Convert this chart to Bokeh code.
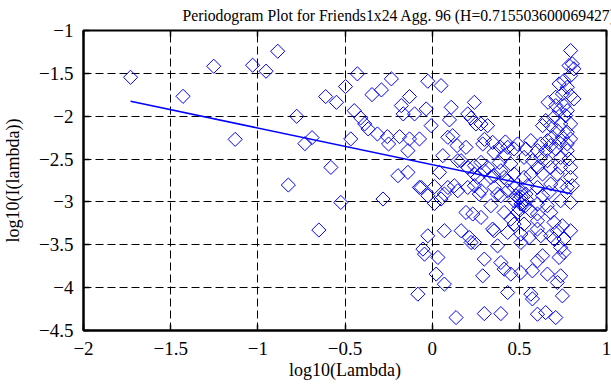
import math
from bokeh.plotting import figure
from bokeh.models import Range1d, LinearAxis, FixedTicker, Title
from bokeh.embed import file_html
from bokeh.resources import INLINE

# ---- data ----
lam = [
    -1.730, -1.429, -1.253, -1.130, -1.030, -0.953, -0.886, -0.825, -0.777, -0.730,
    -0.689, -0.650, -0.611, -0.581, -0.549, -0.524, -0.497, -0.467, -0.447, -0.429,
    -0.410, -0.387, -0.367, -0.345, -0.291, -0.314, -0.257, -0.282, -0.234, -0.250,
    -0.187, -0.196, -0.139, -0.177, -0.166, -0.130, -0.130, -0.139, -0.101, -0.073,
    -0.073, -0.034, -0.025, -0.006, 0.051, 0.061, 0.042, 0.099, 0.109, 0.090,
    0.118, 0.143, 0.242, 0.223, 0.280, 0.318, 0.194, 0.290, 0.347, 0.166,
    0.204, 0.280, 0.355, -0.063, 0.013, 0.013, 0.127, 0.194, 0.280, 0.070,
    -0.025, -0.053, -0.044, 0.033, 0.023, 0.070, -0.082, 0.137, 0.166, 0.213,
    0.242, 0.299, 0.290, 0.347, 0.375, 0.394, 0.413, 0.299, 0.394, 0.433,
    0.451, 0.509, 0.575, 0.566, 0.575, 0.604, 0.651, 0.709, 0.737, 0.718,
    0.747, 0.661, 0.604, 0.633, 0.728, 0.756, 0.737, 0.270, 0.355, 0.433,
    0.470, 0.527, 0.509, 0.509, 0.556, 0.604, 0.623, 0.680, 0.718, 0.794,
    0.699, 0.756, 0.413, 0.604, 0.680, 0.470, 0.509, 0.537, 0.633, 0.737,
    0.794, 0.804, 0.737, 0.375, 0.433, 0.337, 0.242, 0.233, 0.223,
    0.794, 0.804, 0.785, 0.813, 0.794, 0.756, 0.728, 0.775, 0.794, 0.813,
    0.747, 0.709, 0.665, 0.709, 0.756, 0.728, 0.775, 0.766, 0.699, 0.651,
    0.633, 0.680, 0.737, 0.794, 0.718, 0.775, 0.690, 0.747, 0.794, 0.661,
    0.728, 0.623, 0.680, 0.775, 0.604, 0.651, 0.709, 0.775, 0.537, 0.470,
    0.251, 0.413, 0.385, 0.451, 0.527, 0.575, 0.623, 0.661, 0.737, 0.785,
    0.604, 0.680, 0.737, 0.794, 0.566, 0.633, 0.718, 0.794, 0.299, 0.242,
    0.261, 0.337, 0.413, 0.470, 0.527, 0.547, 0.604, 0.680, 0.670, 0.775,
    0.661, 0.604, 0.566, 0.490, 0.451, 0.604, 0.699, 0.747, 0.480, 0.509,
    0.497, 0.147, 0.242, 0.318, 0.356, 0.394, 0.433, 0.470, 0.356, 0.394,
    0.280, 0.204, 0.147, 0.090, 0.051, -0.025, 0.566, 0.490, 0.433, 0.204,
    0.070, 0.520, 0.500, 0.530, 0.510, 0.540, 0.300, 0.390, 0.420,
]
per = [
    -1.546, -1.768, -1.417, -2.270, -1.405, -1.475, -1.242, -2.803, -2.001, -2.320,
    -2.250, -3.328, -1.771, -2.597, -1.838, -3.006, -1.654, -2.265, -1.935, -1.506,
    -2.020, -2.090, -2.148, -1.748, -1.693, -2.207, -2.238, -2.966, -1.564, -2.324,
    -2.238, -2.694, -2.655, -1.876, -1.973, -1.771, -2.265, -2.402, -1.973, -2.265,
    -2.831, -1.915, -1.592, -2.110, -1.643, -2.460, -2.655, -2.043, -1.896, -2.246,
    -2.227, -2.343, -1.838, -2.020, -2.090, -2.110, -2.363, -2.324, -2.305, -2.519,
    -2.597, -2.539, -2.422, -2.831, -2.822, -3.018, -2.811, -3.123, -3.181, -3.336,
    -3.395, -3.550, -3.609, -3.648, -3.842, -3.959, -4.076, -4.349, -3.336, -3.415,
    -3.473, -3.667, -3.862, -3.317, -3.512, -3.707, -3.784, -4.303, -4.303, -4.057,
    -3.842, -3.824, -3.804, -4.076, -4.131, -4.310, -4.291, -4.349, -3.862, -3.940,
    -4.096, -3.842, -3.687, -3.628, -3.648, -3.590, -3.531, -2.908, -3.336, -3.356,
    -3.258, -3.258, -3.375, -3.473, -3.415, -3.317, -3.395, -3.395, -3.336, -3.336,
    -3.433, -3.433, -3.123, -3.141, -3.123, -2.986, -3.025, -2.908, -2.928, -2.986,
    -3.006, -2.811, -2.811, -2.908, -2.869, -3.044, -2.811, -3.141, -3.473,
    -1.234, -1.389, -1.409, -1.447, -1.526, -1.584, -1.623, -1.662, -1.759, -1.798,
    -1.739, -1.779, -1.838, -1.876, -1.876, -1.935, -1.935, -1.993, -2.013, -2.051,
    -2.110, -2.110, -2.090, -2.090, -2.168, -2.188, -2.246, -2.246, -2.265, -2.285,
    -2.305, -2.324, -2.343, -2.324, -2.402, -2.402, -2.382, -2.402, -2.382, -2.382,
    -2.090, -2.460, -2.539, -2.557, -2.480, -2.519, -2.480, -2.519, -2.480, -2.499,
    -2.597, -2.597, -2.597, -2.597, -2.674, -2.674, -2.674, -2.714, -2.636, -2.577,
    -2.714, -2.714, -2.714, -2.674, -2.714, -2.811, -2.831, -2.791, -2.889, -2.831,
    -3.044, -3.025, -3.103, -3.123, -3.200, -3.220, -3.239, -3.278, -2.928, -2.869,
    -3.079, -2.519, -2.674, -2.597, -2.694, -2.636, -2.752, -2.831, -2.831, -2.928,
    -2.869, -2.831, -2.869, -2.831, -2.966, -2.928, -2.285, -2.324, -2.363, -1.973,
    -2.908, -3.000, -2.960, -3.050, -2.940, -2.970, -2.270, -2.360, -2.300,
]
fit_lam = [-1.730, 0.804]
fit_per = [-1.826, -2.908]

x_ticks = [-2, -1.5, -1, -0.5, 0, 0.5, 1]
x_tick_labels = ["\u22122", "\u22121.5", "\u22121", "\u22120.5", "0", "0.5", "1"]
y_ticks = [-4.5, -4, -3.5, -3, -2.5, -2, -1.5, -1]
y_tick_labels = ["\u22124.5", "\u22124", "\u22123.5", "\u22123", "\u22122.5", "\u22122", "\u22121.5", "\u22121"]

title_text = "Periodogram Plot for Friends1x24 Agg. 96 (H=0.715503600069427)"
x_label = "log10(Lambda)"
y_label = "log10(I(lambda))"

FONT = "Liberation Serif"
BLUE = "#0000ff"

p = figure(width=611, height=385, output_backend="svg", toolbar_location=None,
           x_range=Range1d(-2, 1), y_range=Range1d(-4.5, -1),
           min_border_left=81, min_border_right=5, min_border_top=30,
           min_border_bottom=55,
           x_axis_label=x_label, y_axis_label=y_label)
p.title = Title(text=title_text, align="left", offset=99, standoff=10,
                vertical_align="top", text_line_height=1.5,
                text_font=FONT, text_font_size="15.7px", text_font_style="normal",
                text_color="black")
p.background_fill_color = "white"
p.border_fill_color = "white"
p.outline_line_color = "black"
p.outline_line_width = 2

p.xaxis.ticker = FixedTicker(ticks=x_ticks)
p.yaxis.ticker = FixedTicker(ticks=y_ticks)
p.xaxis.major_label_overrides = dict(zip(x_ticks, x_tick_labels))
p.yaxis.major_label_overrides = dict(zip(y_ticks, y_tick_labels))

for ax in (p.xaxis[0], p.yaxis[0]):
    ax.axis_line_color = "black"
    ax.axis_line_width = 2
    ax.major_tick_in = 6
    ax.major_tick_out = 0
    ax.major_tick_line_color = "black"
    ax.major_tick_line_width = 1.5
    ax.minor_tick_line_color = None
    ax.major_label_text_font = FONT
    ax.major_label_text_font_size = "19px"
    ax.major_label_text_color = "black"
    ax.axis_label_text_font = FONT
    ax.axis_label_text_font_size = "18px"
    ax.axis_label_text_font_style = "normal"
    ax.axis_label_text_color = "black"
p.xaxis.major_label_standoff = 11
p.xaxis.axis_label_standoff = 2
p.yaxis.major_label_standoff = 10
p.yaxis.axis_label_standoff = 13

for loc, ticks in (("above", x_ticks), ("right", y_ticks)):
    ax = LinearAxis(ticker=FixedTicker(ticks=ticks))
    ax.major_label_text_font_size = "1px"
    ax.major_label_text_color = None
    ax.major_label_standoff = 0
    ax.major_tick_in = 6
    ax.major_tick_out = 0
    ax.major_tick_line_color = "black"
    ax.major_tick_line_width = 1.5
    ax.minor_tick_line_color = None
    ax.axis_line_color = None
    p.add_layout(ax, loc)

p.xgrid[0].ticker = FixedTicker(ticks=x_ticks)
p.ygrid[0].ticker = FixedTicker(ticks=y_ticks)
for g in (p.xgrid[0], p.ygrid[0]):
    g.grid_line_color = "black"
    g.grid_line_dash = "8 4"
    g.grid_line_width = 1

p.scatter(lam, per, marker="square", angle=math.pi / 4, size=10,
          fill_color=None, line_color=BLUE, line_width=1)
p.line(fit_lam, fit_per, line_color=BLUE, line_width=1.5)

open("out.html", "w").write(file_html(p, INLINE))
